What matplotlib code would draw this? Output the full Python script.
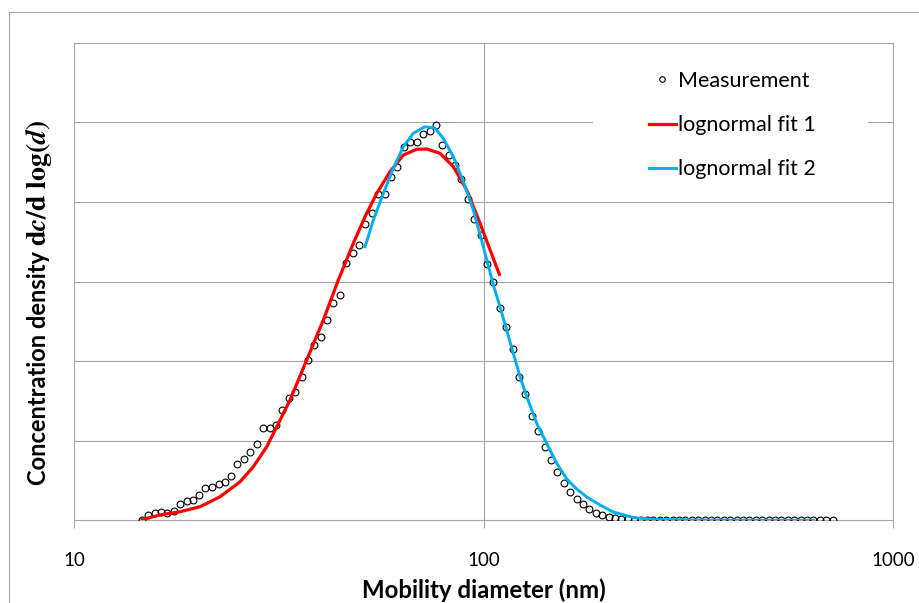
# Particle size distribution: SMPS measurement with two lognormal fits
import matplotlib
matplotlib.use('Agg')
import matplotlib.pyplot as plt
from matplotlib.patches import Rectangle

plt.rcParams['font.family'] = ['Lato', 'DejaVu Sans']
plt.rcParams['mathtext.fontset'] = 'stix'

# mobility diameter channels (nm)
diameter = [14.6, 15.1, 15.7, 16.3, 16.8, 17.5, 18.1, 18.8, 19.5, 20.2,
            20.9, 21.7, 22.5, 23.3, 24.1, 25.0, 25.9, 26.9, 27.9, 28.9,
            30.0, 31.1, 32.2, 33.4, 34.6, 35.9, 37.2, 38.5, 40.0, 41.4,
            42.9, 44.5, 46.1, 47.8, 49.6, 51.4, 53.3, 55.2, 57.3, 59.4,
            61.5, 63.8, 66.1, 68.5, 71.0, 73.7, 76.4, 79.1, 82.0, 85.1,
            88.2, 91.4, 94.7, 98.2, 101.8, 105.5, 109.4, 113.4, 117.6, 121.9,
            126.3, 131.0, 135.8, 140.7, 145.9, 151.2, 156.8, 162.5, 168.5, 174.7,
            181.1, 187.7, 194.6, 201.7, 209.1, 216.7, 224.7, 232.9, 241.4, 250.3,
            259.5, 269.0, 278.8, 289.0, 299.6, 310.6, 322.0, 333.8, 346.0, 358.7,
            371.8, 385.4, 399.5, 414.2, 429.4, 445.1, 461.4, 478.3, 495.8, 514.0,
            532.8, 552.3, 572.5, 593.5, 615.3, 637.8, 661.2, 685.4, 710.5]

measurement = [0.0, 0.063, 0.092, 0.104, 0.092, 0.117, 0.205, 0.239, 0.255, 0.314,
               0.410, 0.422, 0.460, 0.477, 0.557, 0.707, 0.774, 0.862, 0.959, 1.160,
               1.156, 1.201, 1.386, 1.540, 1.616, 1.804, 2.018, 2.206, 2.307, 2.513,
               2.726, 2.830, 3.229, 3.364, 3.459, 3.720, 3.861, 4.103, 4.103, 4.313,
               4.435, 4.690, 4.756, 4.756, 4.853, 4.894, 4.962, 4.715, 4.593, 4.460,
               4.294, 4.033, 3.781, 3.590, 3.222, 2.998, 2.663, 2.428, 2.148, 1.796,
               1.590, 1.314, 1.118, 0.925, 0.761, 0.603, 0.469, 0.359, 0.268, 0.201,
               0.146, 0.092, 0.067, 0.038, 0.029, 0.020, 0.013, 0.008, 0.006, 0.005,
               0.005, 0.004, 0.004, 0.004, 0.003, 0.003, 0.003, 0.003, 0.002, 0.002,
               0.002, 0.002, 0.002, 0.001, 0.001, 0.001, 0.001, 0.001, 0.001, 0.001,
               0.0, 0.0, 0.0, 0.0, 0.0, 0.0, 0.0, 0.0, 0.0]

# lognormal fit 1
fit1_d = [14.63, 16.19, 18.12, 20.28, 22.69, 25.39, 27.36, 29.50, 31.21, 33.63,
          36.94, 40.56, 44.13, 48.01, 51.28, 54.77, 59.01, 63.59, 68.58, 72.55,
          78.16, 84.24, 90.83, 97.88, 109.1]
fit1_y = [0.010, 0.067, 0.108, 0.171, 0.296, 0.484, 0.673, 0.924, 1.175, 1.511,
          2.014, 2.516, 3.019, 3.480, 3.815, 4.108, 4.379, 4.589, 4.661, 4.665,
          4.610, 4.443, 4.150, 3.731, 3.091]

# lognormal fit 2
fit2_d = [51.28, 53.73, 56.84, 60.12, 63.59, 67.28, 71.86, 76.01, 79.62, 84.24,
          89.11, 94.27, 99.72, 105.5, 109.5, 113.7, 118.0, 122.6, 127.3, 134.6,
          142.4, 150.7, 159.4, 168.6, 178.4, 192.2, 207.1, 231.8, 254.6, 337.3,
          637.7]
fit2_y = [3.437, 3.773, 4.108, 4.422, 4.693, 4.862, 4.945, 4.925, 4.799, 4.568,
          4.254, 3.898, 3.437, 2.956, 2.683, 2.391, 2.098, 1.804, 1.553, 1.219,
          0.967, 0.716, 0.519, 0.393, 0.293, 0.192, 0.104, 0.035, 0.013, 0.004,
          0.0]

grey = '#a6a6a6'
W, H = 920, 603

fig = plt.figure(figsize=(9.2, 6.03), dpi=100)
ax = fig.add_axes([0.0808, 0.1371, 0.8902, 0.7921])

ax.plot(diameter, measurement, linestyle='none', marker='o', markersize=4.9,
        markerfacecolor='none', markeredgecolor='black', markeredgewidth=0.8,
        label='Measurement', zorder=3)
ax.plot(fit1_d, fit1_y, color='#ff0000', linewidth=2.3, label='lognormal fit 1', zorder=4)
ax.plot(fit2_d, fit2_y, color='#00b0f0', linewidth=2.1, label='lognormal fit 2', zorder=4)

ax.set_xscale('log')
ax.set_xlim(10, 1000)
ax.set_ylim(0, 6)
ax.set_xticks([10, 100, 1000])
ax.set_xticklabels(['10', '100', '1000'])
ax.xaxis.set_minor_locator(matplotlib.ticker.NullLocator())
ax.set_yticks([1, 2, 3, 4, 5])
ax.set_yticklabels([])
ax.tick_params(axis='y', length=0)
ax.tick_params(axis='x', length=5.5, width=0.8, color=grey, direction='out',
               labelsize=13.5, pad=17)
ax.grid(True, color=grey, linewidth=0.8)
ax.set_axisbelow(True)
for s in ax.spines.values():
    s.set_color(grey)
    s.set_linewidth(0.8)

# white legend area that interrupts the gridline
x0 = (593 - 74.3) / 819.0
x1 = (868 - 74.3) / 819.0
y0 = (520.3 - 195) / 477.6
y1 = (520.3 - 55) / 477.6
ax.add_patch(Rectangle((x0, y0), x1 - x0, y1 - y0, transform=ax.transAxes,
                       facecolor='white', edgecolor='none', zorder=2))

leg = ax.legend(loc='upper left', bbox_to_anchor=((649 - 74.3) / 819.0, (520.3 - 71) / 477.6),
                frameon=False, fontsize=15.5, handlelength=1.25, handletextpad=0.1,
                labelspacing=1.12, borderpad=0, borderaxespad=0)
leg.set_zorder(5)
leg.legend_handles[0].set_markersize(4)

fig.text(39 / W, 1 - 485 / H, 'Concentration density', rotation=90, ha='center',
         va='bottom', fontsize=17, fontweight='bold')
fig.text(39 / W, 1 - 246 / H,
         r'$\mathbf{d}\mathbfit{c}\mathbf{/d}\ \mathbf{log(}\mathbfit{d}\mathbf{)}$',
         rotation=90, ha='center', va='bottom', fontsize=20)
fig.text(484 / W, 1 - 598 / H, 'Mobility diameter (nm)', ha='center', va='baseline',
         fontsize=17.3, fontweight='bold')

# outer chart border, partly cut off at the right and bottom
fig.patches.append(Rectangle((9 / W, -0.1), 1.2, 1.1 - 12.3 / H, transform=fig.transFigure,
                             fill=False, edgecolor=grey, linewidth=0.8))

fig.savefig('out.png', dpi=100)
